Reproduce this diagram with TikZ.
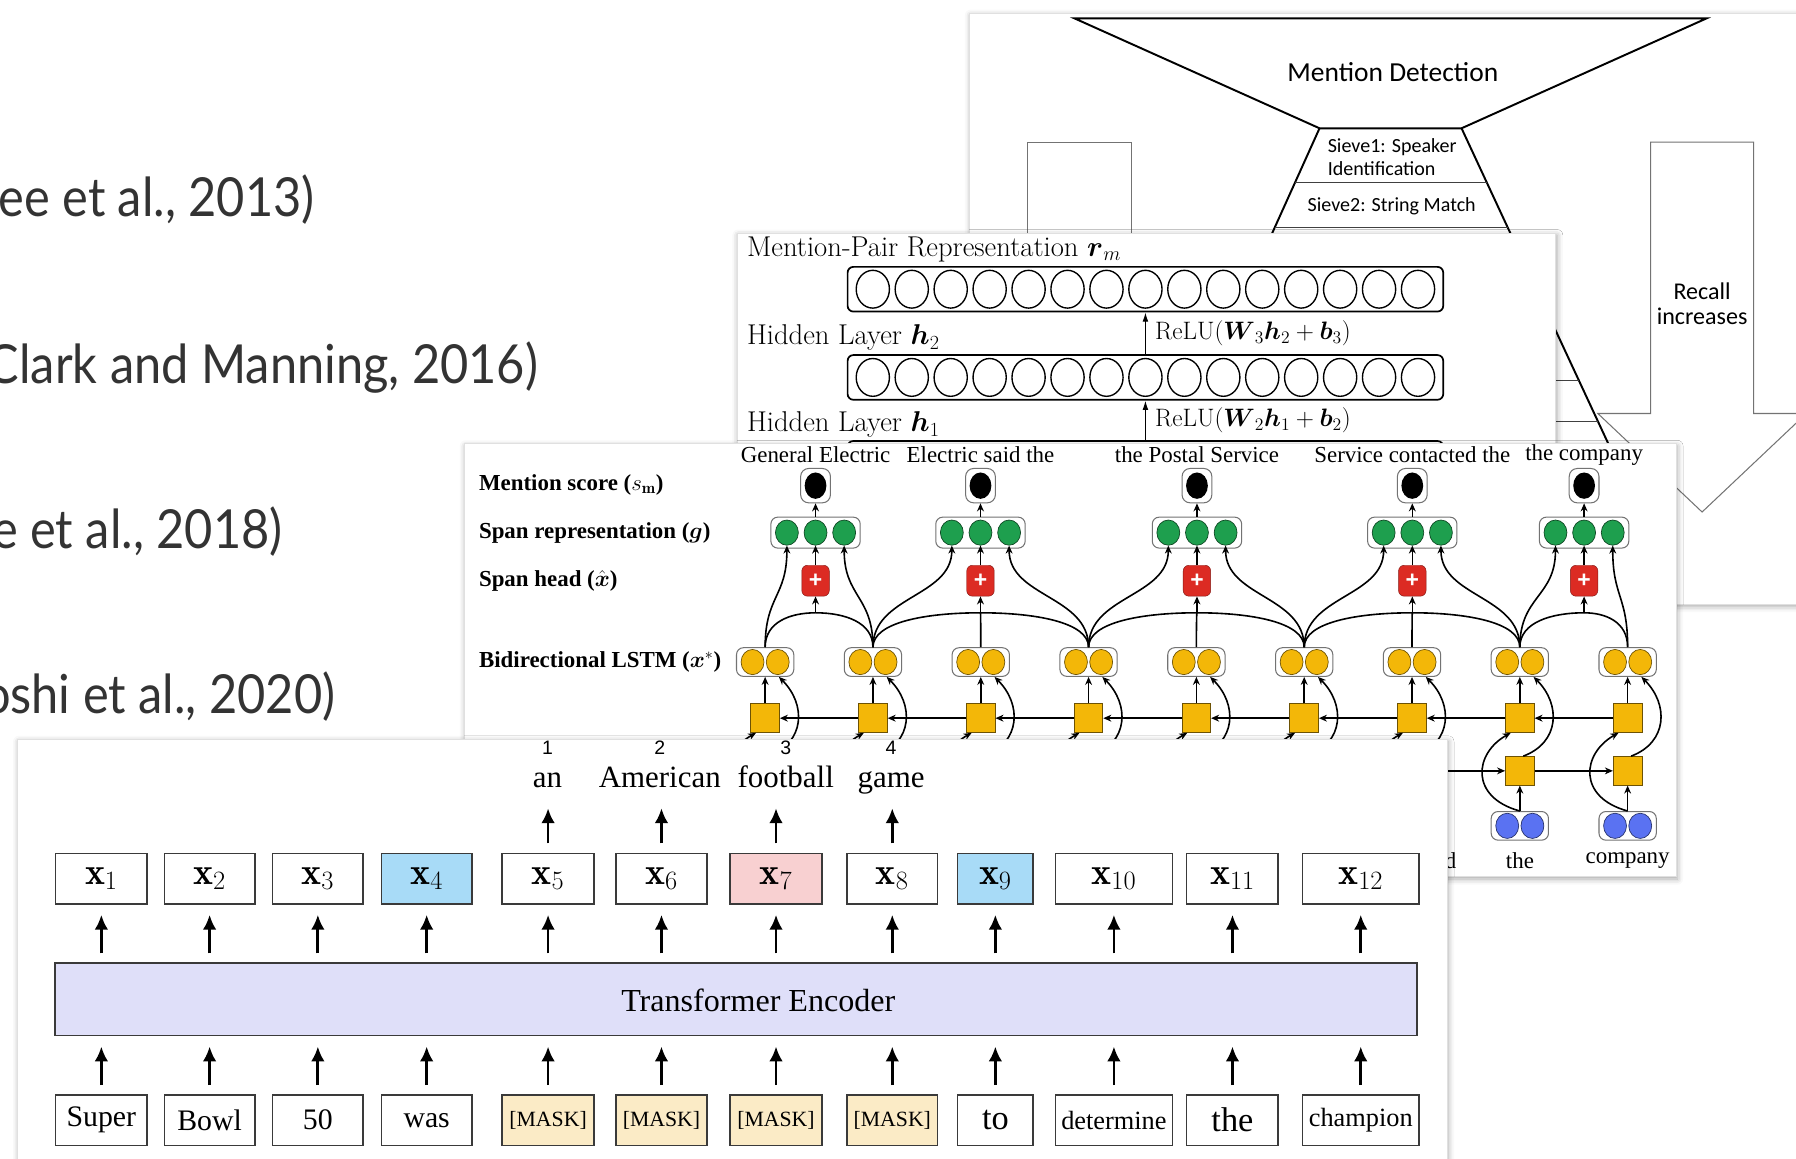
\RequirePackage{fix-cm}
\documentclass[tikz,border=0pt]{standalone}
\usepackage{amsmath}
\usepackage{fontspec}
\usetikzlibrary{arrows.meta,positioning,shapes.geometric,fit,calc,shadows.blur}
\newfontfamily\timesfont{Liberation Serif}
\newfontfamily\calfont{Carlito}
\newfontfamily\citefont{Lato}[FakeStretch=0.905]
\newfontfamily\helvfont{Liberation Sans}
\definecolor{gfill}{HTML}{1E9F4E}
\definecolor{rfill}{HTML}{DC2B23}
\definecolor{yfill}{HTML}{F3B708}
\definecolor{bfill}{HTML}{5A72F2}
\definecolor{maskfill}{HTML}{FBEBC6}
\definecolor{xblue}{HTML}{A8DBF7}
\definecolor{xpink}{HTML}{F8D0D1}
\definecolor{encfill}{HTML}{DFDFF9}
\definecolor{edge}{HTML}{3A3A3A}
\newcommand\masksize{\fontsize{19}{20}\selectfont}
\newcommand\bigword{\fontsize{30}{30}\selectfont}
\newcommand\smallword{\fontsize{23}{24}\selectfont}

\begin{document}
\begin{tikzpicture}[
  x=1pt, y=-1pt,
  >=Stealth,
  panel/.style={rectangle, fill=white, draw=black!12, line width=0.8pt, anchor=north west, inner sep=0pt,
    blur shadow={shadow xshift=1pt, shadow yshift=-2pt, shadow blur radius=5pt, shadow opacity=35}},
  cite/.style={font=\citefont\fontsize{47}{50}\selectfont, text=black!80, anchor=base east, inner sep=0pt},
  cal/.style={font=\calfont\fontsize{17.5}{20}\selectfont, inner sep=0pt},
  funnel/.style={line width=1.7pt},
  sieveline/.style={line width=0.8pt, black!75},
  thinbox/.style={line width=0.9pt, black!55},
  cmtext/.style={font=\fontsize{25}{27}\selectfont, inner sep=0pt},
  relu/.style={font=\fontsize{22}{24}\selectfont, inner sep=0pt},
  hlayer/.style={rectangle, rounded corners=5pt, draw, line width=1.5pt, minimum width=520, minimum height=39},
  neuron/.style={ellipse, draw, line width=1.2pt, minimum width=29, minimum height=33, inner sep=0pt},
  thinarr/.style={-{Latex[length=8pt,width=5pt]}, line width=1pt},
  tb/.style={font=\timesfont\bfseries\fontsize{20}{22}\selectfont, anchor=west, inner sep=0pt},
  tr/.style={font=\timesfont\fontsize{20}{22}\selectfont, inner sep=0pt},
  pairbox/.style={rectangle, rounded corners=6pt, draw=black!55, fill=white, line width=0.9pt, minimum width=50, minimum height=25},
  ycirc/.style={ellipse, fill=yfill, draw=yfill!45!black, line width=0.6pt, minimum width=20, minimum height=22, inner sep=0pt},
  bcirc/.style={ycirc, fill=bfill, draw=bfill!45!black},
  gcirc/.style={ycirc, fill=gfill, draw=gfill!45!black},
  sqbox/.style={rectangle, fill=yfill, draw=yfill!45!black, line width=0.7pt, minimum size=25, inner sep=0pt},
  gbox/.style={pairbox, minimum width=78, minimum height=27},
  scorebox/.style={pairbox, minimum width=26, minimum height=30, rounded corners=7pt},
  blackdot/.style={ellipse, fill=black, minimum width=19, minimum height=23, inner sep=0pt},
  plusbox/.style={rectangle, rounded corners=5pt, fill=rfill, draw=rfill!60!black, minimum width=24, minimum height=27,
    inner sep=0pt, text=white, font=\helvfont\bfseries\fontsize{20}{20}\selectfont},
  arr/.style={-{Stealth[length=7pt,width=6pt]}, line width=1.4pt},
  ln/.style={line width=1.4pt},
  xbox/.style={rectangle, draw=edge, line width=1.4pt, minimum height=44, inner sep=0pt, font=\fontsize{33}{34}\selectfont},
  inbox/.style={xbox, font=\timesfont\fontsize{26}{28}\selectfont},
  topword/.style={font=\timesfont\fontsize{27}{28}\selectfont, inner sep=0pt, text height=18pt, text depth=5pt},
  numlbl/.style={font=\helvfont\fontsize{17}{18}\selectfont, inner sep=0pt},
  bigarr/.style={-{Latex[length=13pt,width=12pt]}, line width=2.4pt},
]
\useasboundingbox (0,0) rectangle (1568,1011);
\clip (0,0) rectangle (1568,1011);

% citations on the left
\node[cite] (lee13) at (275,189) {ee et al., 2013)};
\node[cite] (clark16) at (470,335) {Clark and Manning, 2016)};
\node[cite] (lee18) at (247,479) {e et al., 2018)};
\node[cite] (joshi20) at (293,623) {oshi et al., 2020)};

% sieve panel
\node[panel, minimum width=800, minimum height=516] (sieve) at (846,11) {};
\draw[thinbox] (897,124) rectangle (988,330);
\draw[thinbox] (1441,124) -- (1531,124) -- (1531,361) -- (1577,361) -- (1486,447) -- (1395,361) -- (1441,361) -- cycle;
\node[cal, align=center, font=\calfont\fontsize{21}{22}\selectfont] (recall) at (1486,265) {Recall\\increases};
\draw[funnel] (938,16) -- (1490,16) -- (1276,112) -- (1152,112) -- cycle;
\node[cal, font=\calfont\fontsize{24}{26}\selectfont] (md) at (1216,63) {Mention Detection};
\coordinate (fl) at (1152,112);
\coordinate (fr) at (1276,112);
\coordinate (fl2) at (1022,400);
\coordinate (fr2) at (1410,400);
\draw[funnel] (fl) -- (fl2) (fr) -- (fr2);
\foreach \y in {159,199,332,368}
  \draw[sieveline] ($(fl)!{(\y-112)/288}!(fl2)$) -- ($(fr)!{(\y-112)/288}!(fr2)$);
\node[cal, align=left, anchor=west] (sv1) at (1159,137) {Sieve1: Speaker\\Identification};
\node[cal] (sv2) at (1215,180) {Sieve2: String Match};

% mention-pair panel
\node[panel, minimum width=715, minimum height=230] (pair) at (643,203) {};
\node[cmtext, anchor=west] (lrm) at (652,218) {Mention-Pair Representation $\boldsymbol{r}_m$};
\node[cmtext, anchor=west] (lh2) at (652,295) {Hidden Layer $\boldsymbol{h}_2$};
\node[cmtext, anchor=west] (lh1) at (652,371) {Hidden Layer $\boldsymbol{h}_1$};
\node[hlayer] (rm) at (1000,252.5) {};
\node[hlayer] (h2) at (1000,329.5) {};
\node[hlayer] (h1) at (1000,404.5) {};
\foreach \k in {0,...,14} {
  \node[neuron] (rmu\k) at (762+34*\k,252.5) {};
  \node[neuron] (hu\k) at (762+34*\k,329.5) {};
}
\draw[thinarr] (h2) -- node[relu, right, xshift=8pt] {ReLU$(\boldsymbol{W}_3\boldsymbol{h}_2+\boldsymbol{b}_3)$} (rm);
\draw[thinarr] (h1) -- node[relu, right, xshift=8pt] {ReLU$(\boldsymbol{W}_2\boldsymbol{h}_1+\boldsymbol{b}_2)$} (h2);

% span model panel
\node[panel, minimum width=1058, minimum height=378] (lstm) at (405,387) {};
\node[tb] (lscore) at (418,423) {Mention score ($s_{\mathbf{m}}$)};
\node[tb] (lspan) at (418,465) {Span representation ($\boldsymbol{g}$)};
\node[tb] (lhead) at (418,507) {Span head ($\hat{\boldsymbol{x}}$)};
\node[tb] (lbi) at (418,578) {Bidirectional LSTM ($\boldsymbol{x}^{*}$)};

\foreach \i in {1,...,9} {
  \pgfmathsetmacro\tx{668+94.125*(\i-1)}
  \node[pairbox] (out\i) at (\tx,578) {};
  \node[ycirc] (oa\i) at (\tx-11,578) {};
  \node[ycirc] (ob\i) at (\tx+11,578) {};
  \node[sqbox] (bsq\i) at (\tx,627) {};
  \node[sqbox] (fsq\i) at (\tx,673) {};
  \node[pairbox] (emb\i) at (\tx,721) {};
  \node[bcirc] (ea\i) at (\tx-11,721) {};
  \node[bcirc] (eb\i) at (\tx+11,721) {};
  \draw[arr] (bsq\i) -- (out\i);
  \draw[arr] (emb\i) -- (fsq\i);
  \draw[arr] ($(fsq\i.north)+(3,0)$) .. controls +(32,-12) and +(24,24) .. ($(out\i.south)+(12,0)$);
  \draw[arr] (emb\i.north) .. controls +(-44,-12) and +(-32,18) .. ($(bsq\i.south)+(-8,0)$);
}
\foreach \i [evaluate=\i as \j using int(\i+1)] in {1,...,8} {
  \draw[arr] (bsq\j) -- (bsq\i);
  \draw[arr] (fsq\i) -- (fsq\j);
}
\node[tr] (wd7) at (1233,751) {contacted};
\node[tr] (wd8) at (1327,751) {the};
\node[tr] (wd9) at (1421,751) {company};

\foreach \s/\c/\a/\b/\txt in {1/712/1/2/General Electric, 2/856/2/4/Electric said the,
    3/1045/4/6/the Postal Service, 4/1233/6/8/Service contacted the, 5/1383/8/9/the company} {
  \node[tr] (lab\s) at (\c,397) {\txt};
  \node[scorebox] (sc\s) at (\c,424) {};
  \node[blackdot] (dot\s) at (\c,424) {};
  \node[gbox] (g\s) at (\c,465) {};
  \node[gcirc] (gl\s) at (\c-25,465) {};
  \node[gcirc] (gm\s) at (\c,465) {};
  \node[gcirc] (gr\s) at (\c+25,465) {};
  \node[plusbox] (hd\s) at (\c,507) {+};
  \coordinate (jn\s) at (\c,535);
  \draw[arr] (g\s) -- (sc\s);
  \draw[arr] (hd\s) -- (gm\s);
  \draw[arr] (jn\s) -- (hd\s);
  \draw[arr] (out\a.north) .. controls +(0,-45) and +(0,45) .. (gl\s.south);
  \draw[arr] (out\b.north) .. controls +(0,-45) and +(0,45) .. (gr\s.south);
  \foreach \t in {\a,...,\b}
    \draw[ln] (out\t.north) .. controls +(0,-22) and ($(jn\s)!0.5!(out\t.north |- jn\s)$) .. (jn\s);
}

% masked span panel
\node[panel, minimum width=1248, minimum height=420] (bert) at (15,645) {};
\node[rectangle, draw=edge, line width=1.4pt, fill=encfill, minimum width=1189, minimum height=63] (enc) at (642.5,872.5) {};
\node[font=\timesfont\fontsize{28}{30}\selectfont, inner sep=0pt] (enclbl) at (662,873) {Transformer Encoder};
\foreach \i/\c/\w/\xf/\word/\inf in {
    1/88.5/80/white/Super/white, 2/183/79/white/Bowl/white, 3/277.5/79/white/50/white,
    4/372.5/79/xblue/was/white, 5/478.5/80/white/{\masksize [MASK]}/maskfill,
    6/577.5/79/white/{\masksize [MASK]}/maskfill, 7/677.5/80/xpink/{\masksize [MASK]}/maskfill,
    8/779/79/white/{\masksize [MASK]}/maskfill, 9/869/66/xblue/{\bigword to}/white,
    10/972.5/102/white/{\smallword determine}/white, 11/1076/80/white/{\bigword the}/white,
    12/1188/102/white/{\smallword champion}/white} {
  \node[xbox, minimum width=\w, fill=\xf] (x\i) at (\c,767) {$\mathbf{x}_{\i}$};
  \node[inbox, minimum width=\w, fill=\inf] (in\i) at (\c,978) {\word};
  \draw[bigarr, shorten <=8pt, shorten >=9pt] (enc.north -| x\i) -- (x\i);
  \draw[bigarr, shorten <=8pt, shorten >=9pt] (in\i) -- (enc.south -| in\i);
}
\foreach \i/\wx/\n/\word in {5/478/1/an, 6/576/2/American, 7/686/3/football, 8/778/4/game} {
  \node[topword] (w\i) at (\wx,681) {\word};
  \node[numlbl] (n\i) at (\wx,653) {\n};
  \draw[bigarr, shorten <=8pt, shorten >=13pt] (x\i) -- (x\i |- w\i.south);
}
\end{tikzpicture}
\end{document}
